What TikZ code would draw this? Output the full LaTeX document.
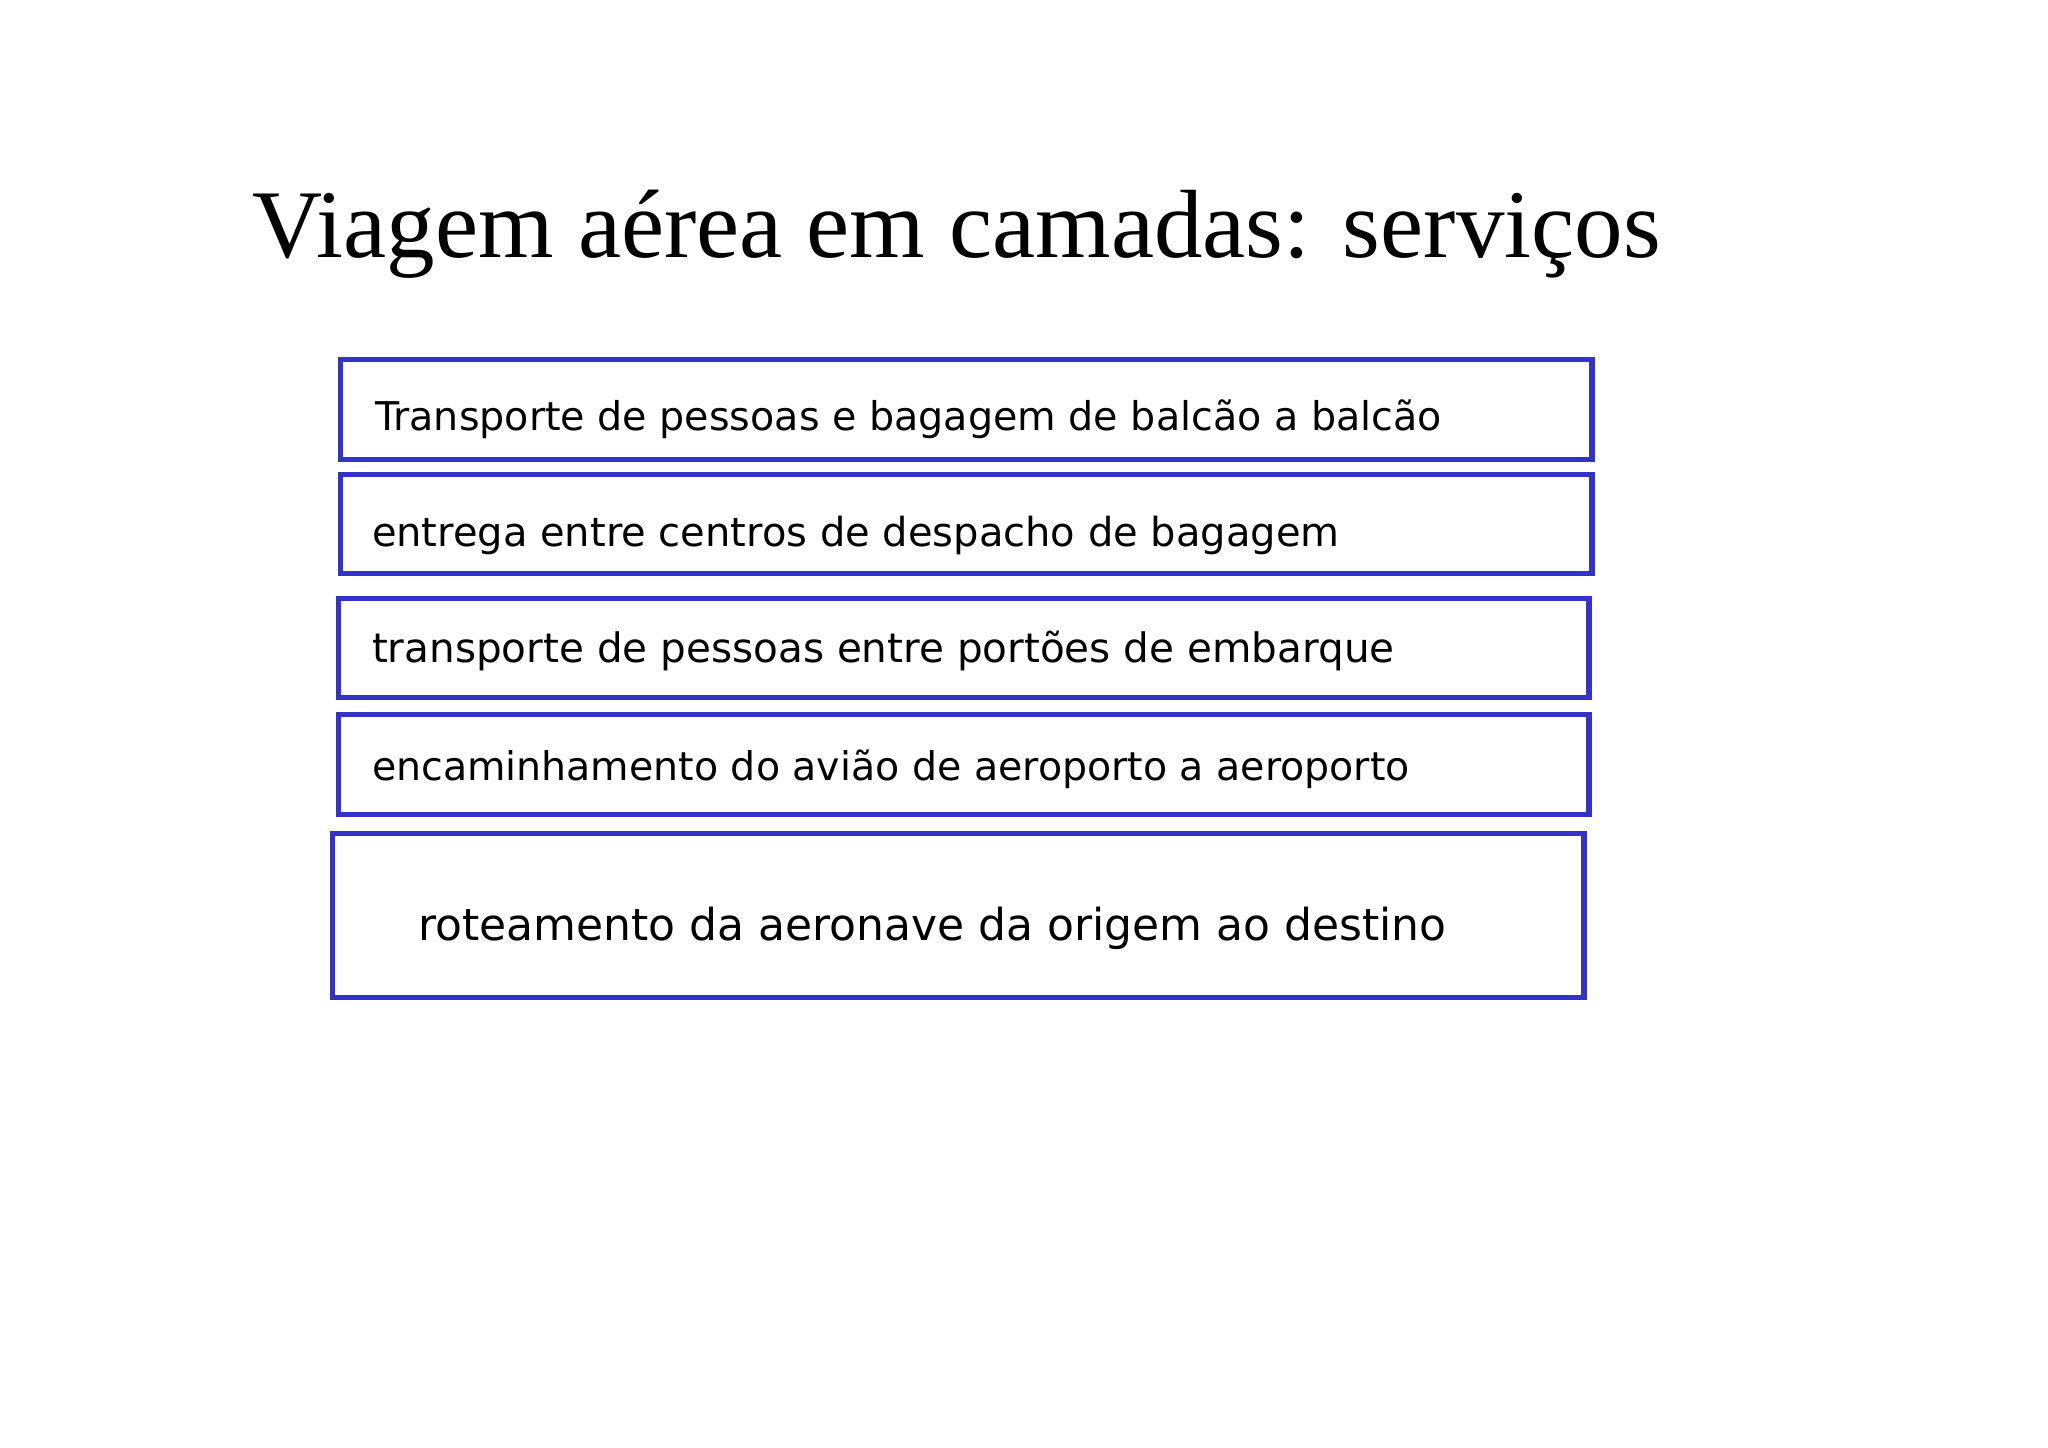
\documentclass[tikz,border=0pt]{standalone}
\usepackage{fontspec}
\setmainfont{Liberation Serif}
\newfontfamily\boxfont{DejaVu Sans}
\definecolor{boxblue}{RGB}{51,51,204}
\begin{document}
\begin{tikzpicture}[x=0.01cm,y=-0.01cm,
  layer/.style={draw=boxblue, line width=0.055cm, fill=white, inner sep=0, outer sep=0, anchor=north west},
  lbl/.style={anchor=base west, inner sep=0, outer sep=0, font=\boxfont}]
\useasboundingbox (0,0) rectangle (2048,1447);
\fill[white] (0,0) rectangle (2048,1447);
\node[anchor=base west, inner sep=0] (title) at (252,257) {\resizebox{14.07cm}{!}{Viagem aérea em camadas: serviços}};
\node[layer, minimum width=12.51cm, minimum height=1.00cm] (b1) at (340.5,359.5) {};
\node[layer, minimum width=12.51cm, minimum height=0.99cm] (b2) at (340.5,474.5) {};
\node[layer, minimum width=12.50cm, minimum height=0.99cm] (b3) at (338.5,598.5) {};
\node[layer, minimum width=12.50cm, minimum height=1.00cm] (b4) at (338.5,714.5) {};
\node[layer, minimum width=12.51cm, minimum height=1.64cm] (b5) at (332.5,833.5) {};
\node[lbl] (t1) at (375,430) {\resizebox{10.66cm}{!}{Transporte de pessoas e bagagem de balcão a balcão}};
\node[lbl] (t2) at (372,546) {\resizebox{9.67cm}{!}{entrega entre centros de despacho de bagagem}};
\node[lbl] (t3) at (372,662) {\resizebox{10.22cm}{!}{transporte de pessoas entre portões de embarque}};
\node[lbl] (t4) at (372,780) {\resizebox{10.37cm}{!}{encaminhamento do avião de aeroporto a aeroporto}};
\node[lbl] (t5) at (418,940) {\resizebox{10.28cm}{!}{roteamento da aeronave da origem ao destino}};
\end{tikzpicture}
\end{document}
